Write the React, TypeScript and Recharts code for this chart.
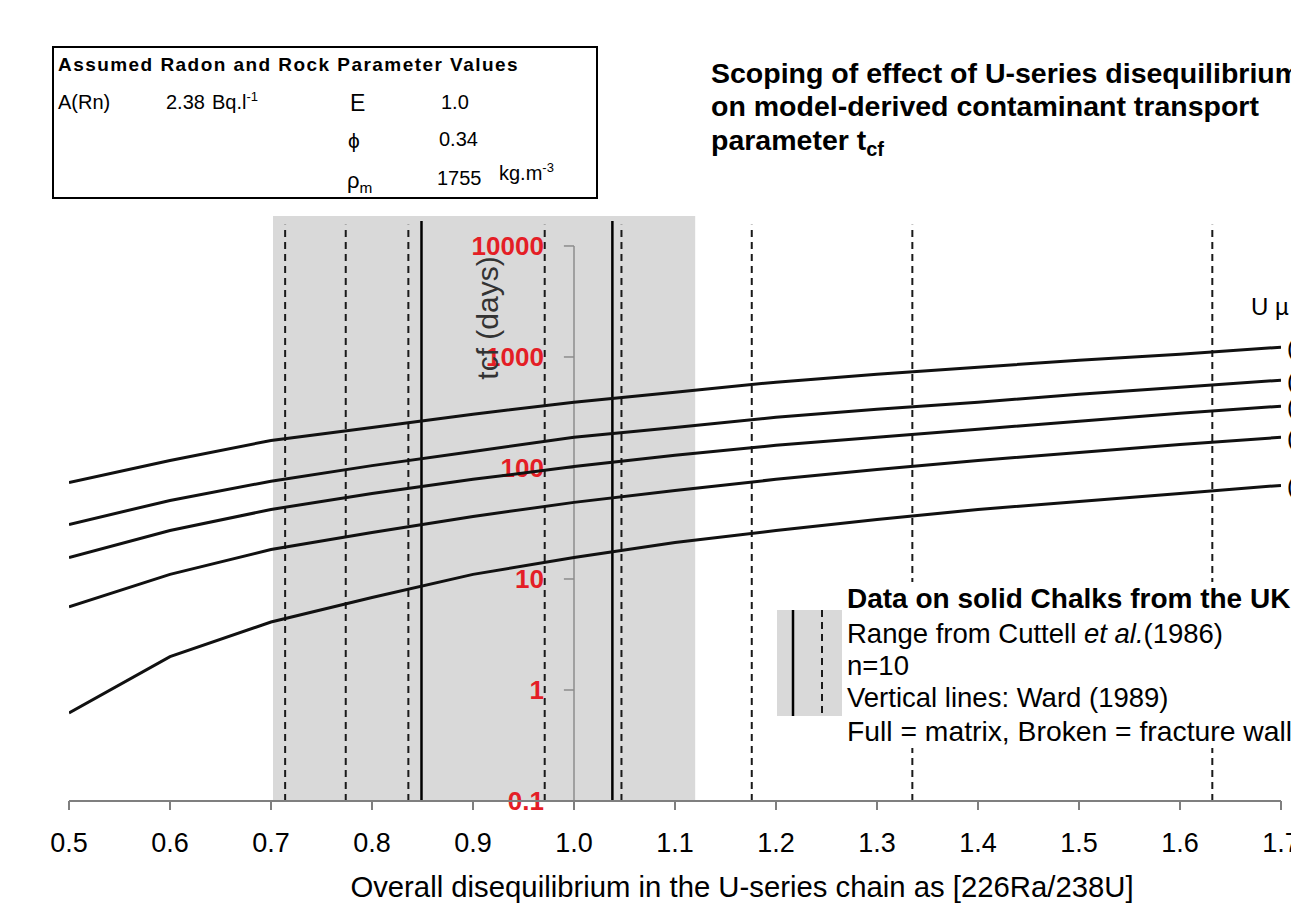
import React from "react";
import {
  ComposedChart,
  Line,
  XAxis,
  YAxis,
  ReferenceArea,
  ReferenceLine,
  ReferenceDot,
  Label,
} from "recharts";

// [226Ra/238U] ratio and modelled tcf (days) for the five U curves
const ratio = [0.5, 0.6, 0.7, 0.8, 0.9, 1.0, 1.1, 1.2, 1.3, 1.4, 1.5, 1.6, 1.7];
const tcfA = [74, 117, 177, 232, 305, 391, 481, 593, 700, 809, 935, 1060, 1225];
const tcfB = [31, 51, 76, 105, 141, 189, 232, 286, 338, 391, 462, 534, 618];
const tcfC = [15.6, 27.3, 42.3, 59, 79, 103, 130, 160, 189, 223, 264, 311, 360];
const tcfD = [5.6, 11, 18.4, 26.2, 36.6, 49, 62.8, 79, 97, 117, 138, 163, 189];
const tcfE = [0.62, 2.0, 4.1, 6.8, 11, 15.6, 21.3, 27.3, 34.4, 42.3, 50, 59, 69.7];
const seriesKeys = ["a", "b", "c", "d", "e"];

const xTicks = [0.5, 0.6, 0.7, 0.8, 0.9, 1.0, 1.1, 1.2, 1.3, 1.4, 1.5, 1.6, 1.7];
const yTicks = [0.1, 1, 10, 100, 1000, 10000];

// Cuttell et al. (1986) range and Ward (1989) values
const chalkRange = [0.702, 1.12];
const matrixLines = [0.849, 1.038];
const fractureLines = [0.714, 0.774, 0.836, 0.971, 1.047, 1.176, 1.335, 1.632];

const yTop = 18620;
const matrixTop = 16800;
const fractureTop = 15500;

const rows = ratio.map((x, i) => ({
  x,
  a: tcfA[i],
  b: tcfB[i],
  c: tcfC[i],
  d: tcfD[i],
  e: tcfE[i],
}));

const FONT = "'Liberation Sans', Arial, sans-serif";
const RED = "#e41e26";

function T({
  x,
  y,
  size,
  bold,
  children,
  style,
}: {
  x: number;
  y: number;
  size: number;
  bold?: boolean;
  children: React.ReactNode;
  style?: React.CSSProperties;
}) {
  return (
    <div
      style={{
        position: "absolute",
        left: x,
        top: y - size * 0.57,
        fontSize: size,
        lineHeight: `${size * 1.2}px`,
        fontWeight: bold ? "bold" : "normal",
        whiteSpace: "nowrap",
        fontFamily: FONT,
        color: "#000",
        ...style,
      }}
    >
      {children}
    </div>
  );
}

export default function App() {
  const sup = {
    fontSize: "0.65em",
    position: "relative",
    top: "-0.55em",
  } as React.CSSProperties;
  const sub = {
    fontSize: "0.7em",
    position: "relative",
    top: "0.3em",
  } as React.CSSProperties;
  return (
    <div
      style={{
        position: "absolute",
        left: 0,
        top: 0,
        width: 1291,
        height: 909,
        overflow: "hidden",
        background: "#fff",
        fontFamily: FONT,
      }}
    >
      <ComposedChart
        width={1291}
        height={909}
        data={rows}
        margin={{ top: 216, right: 10, bottom: 0, left: 69 }}
      >
        <XAxis
          dataKey="x"
          type="number"
          domain={[0.5, 1.7]}
          ticks={xTicks}
          interval={0}
          allowDataOverflow
          tickFormatter={(v: number) => v.toFixed(1)}
          height={108}
          tickSize={9}
          tickMargin={23}
          axisLine={{ stroke: "#7f7f7f", strokeWidth: 2 }}
          tickLine={{ stroke: "#7f7f7f", strokeWidth: 2 }}
          tick={{ fill: "#000", fontSize: 27, fontFamily: FONT }}
        >
          <Label
            content={(p: any) => (
              <text
                x={p.viewBox.x + p.viewBox.width / 2 + 67}
                y={p.viewBox.y + 96}
                textAnchor="middle"
                fontSize={29.3}
                fontFamily={FONT}
                fill="#000"
              >
                Overall disequilibrium in the U-series chain as [226Ra/238U]
              </text>
            )}
          />
        </XAxis>
        <YAxis type="number" scale="log" domain={[0.1, yTop]} hide allowDataOverflow />

        <ReferenceArea
          x1={chalkRange[0]}
          x2={chalkRange[1]}
          fill="#d9d9d9"
          fillOpacity={1}
          stroke="none"
        />
        {fractureLines.map((x) => (
          <ReferenceLine
            key={"f" + x}
            segment={[
              { x, y: 0.1 },
              { x, y: fractureTop },
            ]}
            stroke="#1a1a1a"
            strokeWidth={2}
            strokeDasharray="7 5"
          />
        ))}
        {matrixLines.map((x) => (
          <ReferenceLine
            key={"m" + x}
            segment={[
              { x, y: 0.1 },
              { x, y: matrixTop },
            ]}
            stroke="#000"
            strokeWidth={2.5}
          />
        ))}

        <ReferenceLine
          segment={[
            { x: 1.0, y: 0.1 },
            { x: 1.0, y: 10000 },
          ]}
          stroke="#8c8c8c"
          strokeWidth={1.5}
        />
        {yTicks.map((t) => (
          <ReferenceLine
            key={"yt" + t}
            segment={[
              { x: 0.99, y: t },
              { x: 1.0, y: t },
            ]}
            stroke="#8c8c8c"
            strokeWidth={1.5}
            label={(p: any) => (
              <text
                x={p.viewBox.x - 20}
                y={p.viewBox.y}
                dy="0.36em"
                textAnchor="end"
                fontSize={26}
                fontWeight="bold"
                fontFamily={FONT}
                fill={RED}
              >
                {String(t)}
              </text>
            )}
          />
        ))}

        {seriesKeys.map((k) => (
          <Line
            key={k}
            dataKey={k}
            type="linear"
            stroke="#111"
            strokeWidth={3}
            dot={false}
            isAnimationActive={false}
          />
        ))}
        {[tcfA, tcfB, tcfC, tcfD, tcfE].map((s, i) => (
          <ReferenceDot
            key={"end" + i}
            x={ratio[ratio.length - 1]}
            y={s[s.length - 1]}
            r={0}
            stroke="none"
            fill="none"
            label={{
              value: "(",
              position: "right",
              offset: 6,
              fontSize: 24,
              fontFamily: FONT,
              fill: "#000",
            }}
          />
        ))}
      </ComposedChart>

      {/* y axis title */}
      <div
        style={{
          position: "absolute",
          left: 488 - 90,
          top: 318 - 18,
          width: 180,
          height: 36,
          lineHeight: "36px",
          textAlign: "center",
          fontSize: 30,
          color: "#333",
          transform: "rotate(-90deg)",
          whiteSpace: "nowrap",
        }}
      >
        tcf (days)
      </div>

      {/* parameter box */}
      <div
        style={{
          position: "absolute",
          left: 52,
          top: 46,
          width: 546,
          height: 153,
          border: "2px solid #000",
          boxSizing: "border-box",
          background: "#fff",
        }}
      />
      <T x={58} y={65} size={19} bold style={{ letterSpacing: 1.45 }}>
        Assumed Radon and Rock Parameter Values
      </T>
      <T x={58} y={101} size={20}>A(Rn)</T>
      <T x={166} y={101} size={20}>2.38</T>
      <T x={212} y={101} size={20}>
        Bq.l<span style={sup}>-1</span>
      </T>
      <T x={350} y={103} size={23}>E</T>
      <T x={441} y={101} size={20}>1.0</T>
      <T x={348} y={140} size={21}>ϕ</T>
      <T x={439} y={138} size={20}>0.34</T>
      <T x={347} y={181} size={22}>
        ρ<span style={sub}>m</span>
      </T>
      <T x={437} y={177} size={20}>1755</T>
      <T x={499} y={172} size={20}>
        kg.m<span style={sup}>-3</span>
      </T>

      {/* chart title */}
      <T x={711} y={72} size={28.5} bold>
        Scoping of effect of U-series disequilibrium
      </T>
      <T x={711} y={105} size={28.5} bold>
        on model-derived contaminant transport
      </T>
      <T x={711} y={139} size={28.5} bold>
        parameter t<span style={sub}>cf</span>
      </T>

      <T x={1251} y={307} size={24}>U µ</T>

      {/* legend */}
      <div
        style={{
          position: "absolute",
          left: 845,
          top: 582,
          width: 446,
          height: 166,
          background: "#fff",
        }}
      />
      <svg
        width={65}
        height={106}
        style={{ position: "absolute", left: 777, top: 610 }}
      >
        <rect x={0} y={0} width={65} height={106} fill="#d9d9d9" />
        <line x1={16} y1={0} x2={16} y2={106} stroke="#000" strokeWidth={2.5} />
        <line
          x1={45}
          y1={0}
          x2={45}
          y2={106}
          stroke="#1a1a1a"
          strokeWidth={2}
          strokeDasharray="7 5"
        />
      </svg>
      <T x={847} y={598} size={28} bold>
        Data on solid Chalks from the UK
      </T>
      <T x={847} y={633} size={27.5}>
        Range from Cuttell <i>et al.</i>(1986)
      </T>
      <T x={847} y={665} size={27.5}>n=10</T>
      <T x={847} y={697} size={27.5}>Vertical lines: Ward (1989)</T>
      <T x={847} y={731} size={28.3}>Full = matrix, Broken = fracture wall</T>
    </div>
  );
}
